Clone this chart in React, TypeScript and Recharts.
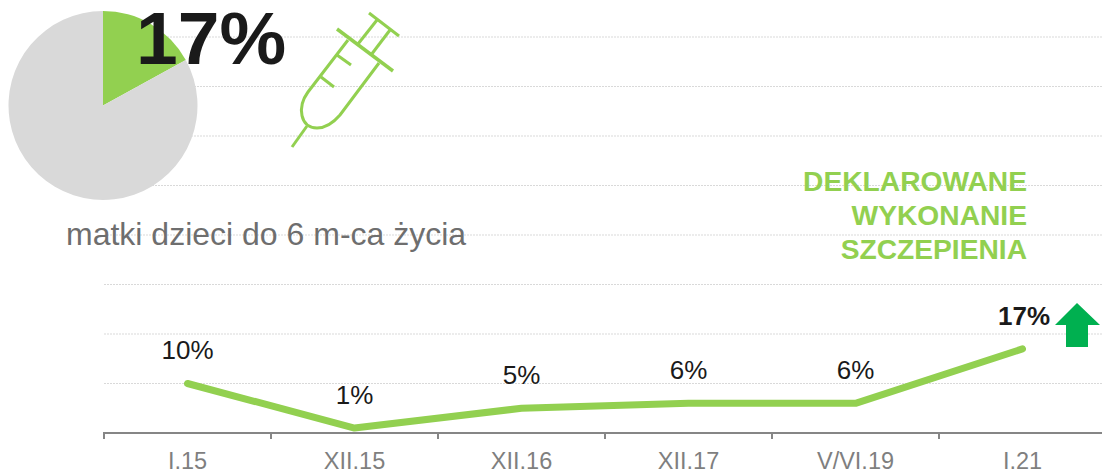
import { CartesianGrid, Cell, LabelList, Line, LineChart, Pie, PieChart, XAxis, YAxis } from "recharts";

const waves = ["I.15", "XII.15", "XII.16", "XII.17", "V/VI.19", "I.21"];
const declared = [10, 1, 5, 6, 6, 17];
const gridTicks = [0, 10, 20, 30, 40, 50, 60, 70, 80];
const shareLabels = ["matki dzieci do 6 m-ca życia", "reszta"];
const shareValues = [17, 83];
const headingLines = ["DEKLAROWANE", "WYKONANIE", "SZCZEPIENIA"];

const GREEN = "#92d050";
const AXIS = "#868686";
const FONT = '"Liberation Sans", Arial, sans-serif';
const HALF_BAND = 83.5;

const chartData = waves.map((wave, i) => ({ wave, declared: declared[i] }));
const pieData = shareLabels.map((name, i) => ({ name, value: shareValues[i] }));

function PointLabel({ x, y, width, value, index }: any) {
  const last = index === waves.length - 1;
  const cx = x + (width || 0) / 2;
  return (
    <text
      x={last ? cx + 27.5 : cx}
      y={last ? y - 24 : y - 24.5}
      textAnchor={last ? "end" : "middle"}
      fontFamily={FONT}
      fontSize={26}
      fontWeight={last ? 700 : 400}
      fill="#1a1a1a"
    >
      {value}%
    </text>
  );
}

// ticks sit between the categories, the label in the middle of its band
function WaveTick({ x, y, payload, index }: any) {
  return (
    <g>
      <line x1={x - HALF_BAND} x2={x - HALF_BAND} y1={y - 1} y2={y + 6} stroke={AXIS} strokeWidth={2} />
      {index === waves.length - 1 && (
        <line x1={x + HALF_BAND} x2={x + HALF_BAND} y1={y - 1} y2={y + 6} stroke={AXIS} strokeWidth={2} />
      )}
      <text x={x} y={y + 36} textAnchor="middle" fontFamily={FONT} fontSize={23.5} fill="#7f7f7f">
        {payload.value}
      </text>
    </g>
  );
}

export default function App() {
  return (
    <div style={{ position: "absolute", left: 0, top: 0, width: 1102, height: 471, overflow: "hidden", background: "#fff", fontFamily: FONT }}>
      <div style={{ position: "absolute", left: 0, top: 0 }}>
        <LineChart
          width={1110}
          height={471}
          data={chartData}
          margin={{ top: 37, right: 4, bottom: 0, left: 104 }}
        >
          <CartesianGrid horizontal vertical={false} stroke="#d9d9d9" strokeDasharray="2 1" />
          <XAxis
            dataKey="wave"
            scale="band"
            interval={0}
            height={38}
            stroke={AXIS}
            strokeWidth={2}
            tickLine={false}
            tickSize={0}
            tickMargin={0}
            tick={<WaveTick />}
          />
          <YAxis hide domain={[0, 80]} ticks={gridTicks} />
          <Line
            dataKey="declared"
            stroke={GREEN}
            strokeWidth={7}
            strokeLinecap="round"
            strokeLinejoin="round"
            dot={false}
            isAnimationActive={false}
          >
            <LabelList dataKey="declared" content={<PointLabel />} />
          </Line>
        </LineChart>
      </div>

      <div style={{ position: "absolute", left: 0, top: 0 }}>
        <PieChart width={206} height={211} margin={{ top: 0, right: 0, bottom: 0, left: 0 }}>
          <Pie
            data={pieData}
            dataKey="value"
            cx={103}
            cy={105.5}
            outerRadius={94.5}
            startAngle={90}
            endAngle={-270}
            stroke="none"
            isAnimationActive={false}
          >
            <Cell fill={GREEN} />
            <Cell fill="#d9d9d9" />
          </Pie>
        </PieChart>
      </div>

      <div style={{ position: "absolute", left: 136, top: -3, fontSize: 75, lineHeight: "82px", fontWeight: 700, color: "#1a1a1a" }}>17%</div>
      <div style={{ position: "absolute", left: 66, top: 216, fontSize: 32, lineHeight: "36px", color: "#6e6e6e", whiteSpace: "nowrap" }}>{shareLabels[0]}</div>
      <div style={{ position: "absolute", right: 75, top: 164, fontSize: 28.2, lineHeight: "34px", fontWeight: 700, color: GREEN, textAlign: "right" }}>
        {headingLines.map((line) => (
          <div key={line}>{line}</div>
        ))}
      </div>

      <svg width={1102} height={471} style={{ position: "absolute", left: 0, top: 0 }}>
        <g fill="none" stroke={GREEN} strokeWidth={3}>
          <path d="M292 147 L307 126" />
          <path d="M348 40 L308 92 C297 107 300 128 317 128 C327 128 334 122 340 115 L379 63" />
          <path d="M337 29 L393 71" strokeWidth={3.5} />
          <path d="M369 13 L399 36" />
          <path d="M358 44 L377 20" />
          <path d="M371 55 L390 30" />
          <path d="M337 55 L351 65" />
          <path d="M321 77 L334 87" />
        </g>
        <path d="M1077 303 L1100 325 L1088 325 L1088 347 L1066 347 L1066 325 L1055 325 Z" fill="#00b050" />
      </svg>
    </div>
  );
}
